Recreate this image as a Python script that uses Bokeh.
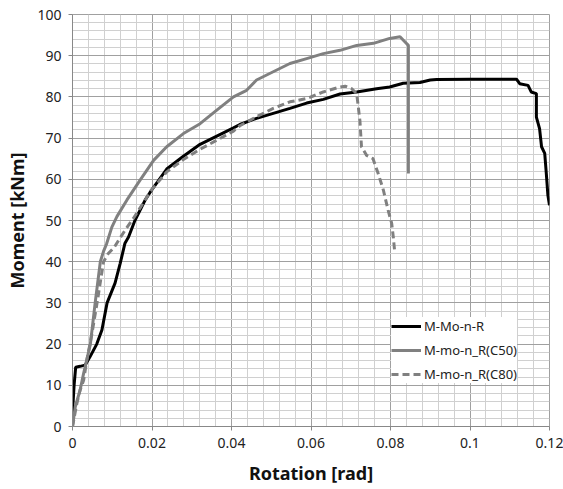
from bokeh.plotting import figure
from bokeh.models import FixedTicker, Legend, LegendItem, Range1d
from bokeh.embed import file_html
from bokeh.resources import INLINE

# ---- data ----
x_ticks = [0, 0.02, 0.04, 0.06, 0.08, 0.10, 0.12]
x_tick_labels = ["0", "0.02", "0.04", "0.06", "0.08", "0.1", "0.12"]
y_ticks = [0, 10, 20, 30, 40, 50, 60, 70, 80, 90, 100]

r_black = [0, 0.0001, 0.0004, 0.0008, 0.0019, 0.0032, 0.0044, 0.0061, 0.0074, 0.0087,
           0.0107, 0.0120, 0.0132, 0.0141, 0.0157, 0.0183, 0.0195, 0.0237, 0.0279,
           0.0321, 0.0363, 0.0405, 0.0421, 0.0463, 0.0505, 0.0547, 0.0589, 0.0631,
           0.0673, 0.0715, 0.0765, 0.0798, 0.0832, 0.0874, 0.0900, 0.0916, 0.1000,
           0.1117, 0.1125, 0.1146, 0.1154, 0.1167, 0.1167, 0.1175, 0.1180, 0.1188,
           0.1192, 0.1196, 0.1200]
m_black = [0, 5.0, 10.0, 14.4, 14.6, 14.9, 16.9, 20.0, 23.4, 30.0,
           34.8, 39.6, 44.5, 46.0, 50.0, 55.0, 56.8, 62.5, 65.6,
           68.5, 70.5, 72.5, 73.3, 74.8, 76.0, 77.2, 78.5, 79.4,
           80.7, 81.2, 82.0, 82.4, 83.3, 83.5, 84.1, 84.2, 84.3,
           84.3, 83.2, 82.8, 81.2, 80.8, 75.1, 72.3, 67.9, 66.3,
           61.4, 56.1, 53.7]

r_c50 = [0, 0.0007, 0.0019, 0.0028, 0.0045, 0.0057, 0.0070, 0.0078, 0.0086, 0.0099,
         0.0112, 0.0137, 0.0170, 0.0204, 0.0237, 0.0279, 0.0321, 0.0363, 0.0405,
         0.0438, 0.0463, 0.0505, 0.0547, 0.0589, 0.0631, 0.0673, 0.0715, 0.0757,
         0.0798, 0.0824, 0.0836, 0.0845, 0.0845]
m_c50 = [0, 4.8, 8.8, 12.9, 20.0, 30.0, 40.0, 42.5, 44.4, 48.4,
         51.0, 55.0, 59.8, 64.6, 67.9, 71.1, 73.5, 76.8, 80.0,
         81.6, 84.1, 86.1, 88.1, 89.3, 90.5, 91.3, 92.5, 93.0,
         94.2, 94.6, 93.4, 92.5, 61.4]

r_c80 = [0, 0.0011, 0.0019, 0.0028, 0.0036, 0.0049, 0.0063, 0.0078, 0.0090, 0.0105,
         0.0116, 0.0132, 0.0153, 0.0183, 0.0195, 0.0237, 0.0279, 0.0321, 0.0363,
         0.0405, 0.0421, 0.0463, 0.0505, 0.0547, 0.0589, 0.0631, 0.0673, 0.0686,
         0.0702, 0.0715, 0.0723, 0.0727, 0.0740, 0.0756, 0.0769, 0.0782, 0.0794,
         0.0803, 0.0807, 0.0811]
m_c80 = [0, 5.6, 8.8, 11.2, 16.1, 22.6, 30.7, 40.0, 42.0, 43.5,
         45.2, 47.6, 50.5, 55.0, 57.0, 61.8, 64.8, 67.3, 69.5,
         71.7, 73.0, 75.2, 77.2, 78.8, 79.6, 81.2, 82.4, 82.6,
         82.0, 80.8, 74.3, 67.9, 65.8, 65.0, 61.4, 57.4, 52.5,
         49.3, 46.0, 42.0]

series_names = ["M-Mo-n-R", "M-mo-n_R(C50)", "M-mo-n_R(C80)"]

FONT = "Noto Sans"

p = figure(width=563, height=489, output_backend="svg", toolbar_location=None,
           x_range=Range1d(0, 0.12), y_range=Range1d(0, 100),
           min_border_left=72, min_border_right=14, min_border_top=14, min_border_bottom=63)
p.frame_width = 477
p.frame_height = 412

p.background_fill_color = "white"
p.border_fill_color = "white"
p.outline_line_color = "#a0a0a0"

# ticks & grids
minor_x = [i * 0.004 for i in range(31) if i % 5 != 0]
minor_y = [i * 2 for i in range(51) if i % 5 != 0]
p.xaxis.ticker = FixedTicker(ticks=x_ticks, minor_ticks=minor_x)
p.yaxis.ticker = FixedTicker(ticks=y_ticks, minor_ticks=minor_y)
p.xaxis.major_label_overrides = {t: l for t, l in zip(x_ticks, x_tick_labels)}

p.xgrid.grid_line_color = "#a0a0a0"
p.ygrid.grid_line_color = "#a0a0a0"
p.xgrid.minor_grid_line_color = "#d0d0d0"
p.ygrid.minor_grid_line_color = "#d0d0d0"

for ax in (p.xaxis, p.yaxis):
    ax.axis_line_color = "#888888"
    ax.major_tick_line_color = "#888888"
    ax.major_tick_out = 4
    ax.major_tick_in = 0
    ax.minor_tick_line_color = None
    ax.major_label_text_font = FONT
    ax.major_label_text_font_size = "14px"
    ax.major_label_text_color = "#222222"
    ax.axis_label_text_font = FONT
    ax.axis_label_text_font_size = "18px"
    ax.axis_label_text_font_style = "bold"
    ax.axis_label_text_color = "#111111"

p.xaxis.axis_label = "Rotation [rad]"
p.yaxis.axis_label = "Moment [kNm]"
p.xaxis.major_label_standoff = 7
p.xaxis.axis_label_standoff = 10
p.yaxis.major_label_standoff = 7
p.yaxis.axis_label_standoff = 5

l_black = p.line(r_black, m_black, line_color="black", line_width=3)
l_c50 = p.line(r_c50, m_c50, line_color="#808080", line_width=3)
l_c80 = p.line(r_c80, m_c80, line_color="#808080", line_width=3, line_dash="7 4")

legend = Legend(items=[LegendItem(label=series_names[0], renderers=[l_black]),
                       LegendItem(label=series_names[1], renderers=[l_c50]),
                       LegendItem(label=series_names[2], renderers=[l_c80])],
                location=(319, 43))
legend.label_text_font = FONT
legend.label_text_font_size = "13px"
legend.label_text_color = "#222222"
legend.glyph_width = 30
legend.glyph_height = 18
legend.label_height = 18
legend.label_standoff = 3
legend.spacing = 6
legend.padding = 4
legend.margin = 0
legend.border_line_color = None
legend.background_fill_color = "white"
legend.background_fill_alpha = 1.0
p.add_layout(legend, "center")

open("out.html", "w").write(file_html(p, INLINE))
